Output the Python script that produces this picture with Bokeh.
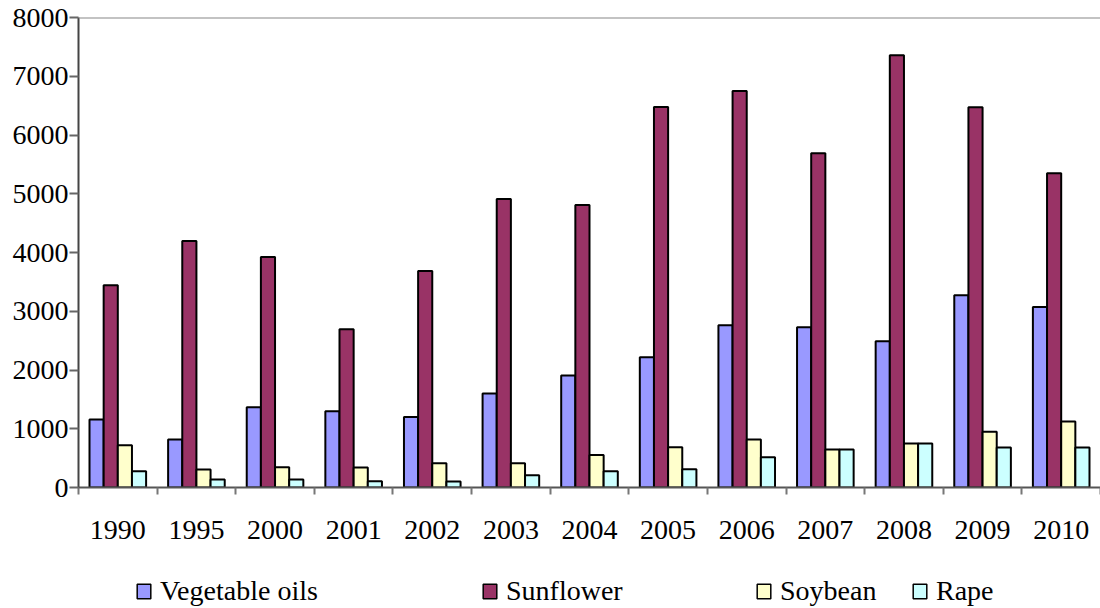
import numpy as np
from bokeh.plotting import figure
from bokeh.layouts import column
from bokeh.models import (ColumnDataSource, FactorRange, Range1d, LinearAxis,
                          CategoricalAxis, FixedTicker, Legend, LegendItem, Span,
                          CustomLabelingPolicy)
from bokeh.transform import dodge
from bokeh.embed import file_html
from bokeh.resources import INLINE

years = ["1990", "1995", "2000", "2001", "2002", "2003", "2004",
         "2005", "2006", "2007", "2008", "2009", "2010"]
vegetable_oils = [1157, 817, 1367, 1299, 1202, 1600, 1906, 2218, 2763, 2729, 2490, 3273, 3074]
sunflower = [3443, 4197, 3925, 2694, 3687, 4912, 4810, 6478, 6750, 5690, 7358, 6473, 5350]
soybean = [720, 306, 346, 340, 414, 414, 555, 686, 817, 647, 749, 947, 1123]
rape = [277, 136, 136, 107, 102, 209, 277, 311, 516, 647, 749, 681, 681]
series_names = ["Vegetable oils", "Sunflower", "Soybean", "Rape"]
y_ticks = [0, 1000, 2000, 3000, 4000, 5000, 6000, 7000, 8000]

colors = ["#9999FF", "#993366", "#FFFFCC", "#CCFFFF"]
offsets = [-0.27, -0.09, 0.09, 0.27]
FONT = "Liberation Serif"

src = ColumnDataSource(dict(year=years, veg=vegetable_oils, sun=sunflower,
                            soy=soybean, rape=rape))

p = figure(x_range=FactorRange(*years), y_range=Range1d(y_ticks[0], y_ticks[-1]),
           width=1100, height=560, output_backend="svg", toolbar_location=None,
           x_axis_location=None, min_border_left=78, min_border_right=0,
           min_border_top=17, min_border_bottom=73)
p.outline_line_color = None
p.grid.visible = False
p.background_fill_color = "white"
p.border_fill_color = "white"

# y axis
ya = p.yaxis[0]
ya.ticker = FixedTicker(ticks=y_ticks)
ya.major_label_text_font = FONT
ya.major_label_text_font_size = "28px"
ya.major_label_text_color = "black"
ya.major_label_standoff = 1
ya.major_tick_in = 0
ya.major_tick_out = 9
ya.minor_tick_line_color = None
ya.axis_line_color = "#444444"
ya.axis_line_width = 2
ya.major_tick_line_color = "#666666"
ya.major_tick_line_width = 2

# boundary ticks on x (category boundaries in synthetic coordinates)
no_labels = CustomLabelingPolicy(code="for (const i of indices) indices.unset(i)\nreturn indices")
tick_axis = LinearAxis(ticker=FixedTicker(ticks=list(range(len(years) + 1))),
                       major_tick_in=0, major_tick_out=7,
                       major_tick_line_color="#777777", major_tick_line_width=2,
                       minor_tick_line_color=None,
                       major_label_policy=no_labels, major_label_standoff=0,
                       axis_line_color="#555555", axis_line_width=2)
p.add_layout(tick_axis, "below")

cat_axis = CategoricalAxis(axis_line_color=None, major_tick_line_color=None,
                           minor_tick_line_color=None,
                           major_label_text_font=FONT,
                           major_label_text_font_size="28px",
                           major_label_text_color="black",
                           major_label_standoff=9)
p.add_layout(cat_axis, "below")

p.add_layout(Span(location=y_ticks[-1], dimension="width",
                  line_color="#888888", line_width=2))

for key, col, off in zip(["veg", "sun", "soy", "rape"], colors, offsets):
    p.vbar(x=dodge("year", off, range=p.x_range), top=key, width=0.18,
           source=src, fill_color=col, line_color="black", line_width=2)

# legend strip below the chart (its frame is aligned with the chart frame)
lf = figure(width=1100, height=48, x_range=Range1d(0, 1), y_range=Range1d(0, 1),
            output_backend="svg", toolbar_location=None, min_border=0,
            x_axis_location=None, y_axis_location=None)
lf.outline_line_color = None
lf.grid.visible = False
proxy = ColumnDataSource(dict(x=np.array([0.5]), top=np.array([np.nan])))
legend_x = [57, 403, 677, 833]
for name, col, lx in zip(series_names, colors, legend_x):
    r = lf.vbar(x="x", top="top", width=0.1, source=proxy,
                fill_color=col, line_color="black", line_width=1.5)
    lg = Legend(items=[LegendItem(label=name, renderers=[r])],
                location=(lx, 1), padding=0, margin=0,
                border_line_color=None, background_fill_alpha=0,
                glyph_width=17, glyph_height=18, label_standoff=8,
                label_text_font=FONT, label_text_font_size="28px",
                label_text_color="black")
    lf.add_layout(lg, "center")

layout = column(p, lf, spacing=0)
open("out.html", "w").write(file_html(layout, INLINE))
